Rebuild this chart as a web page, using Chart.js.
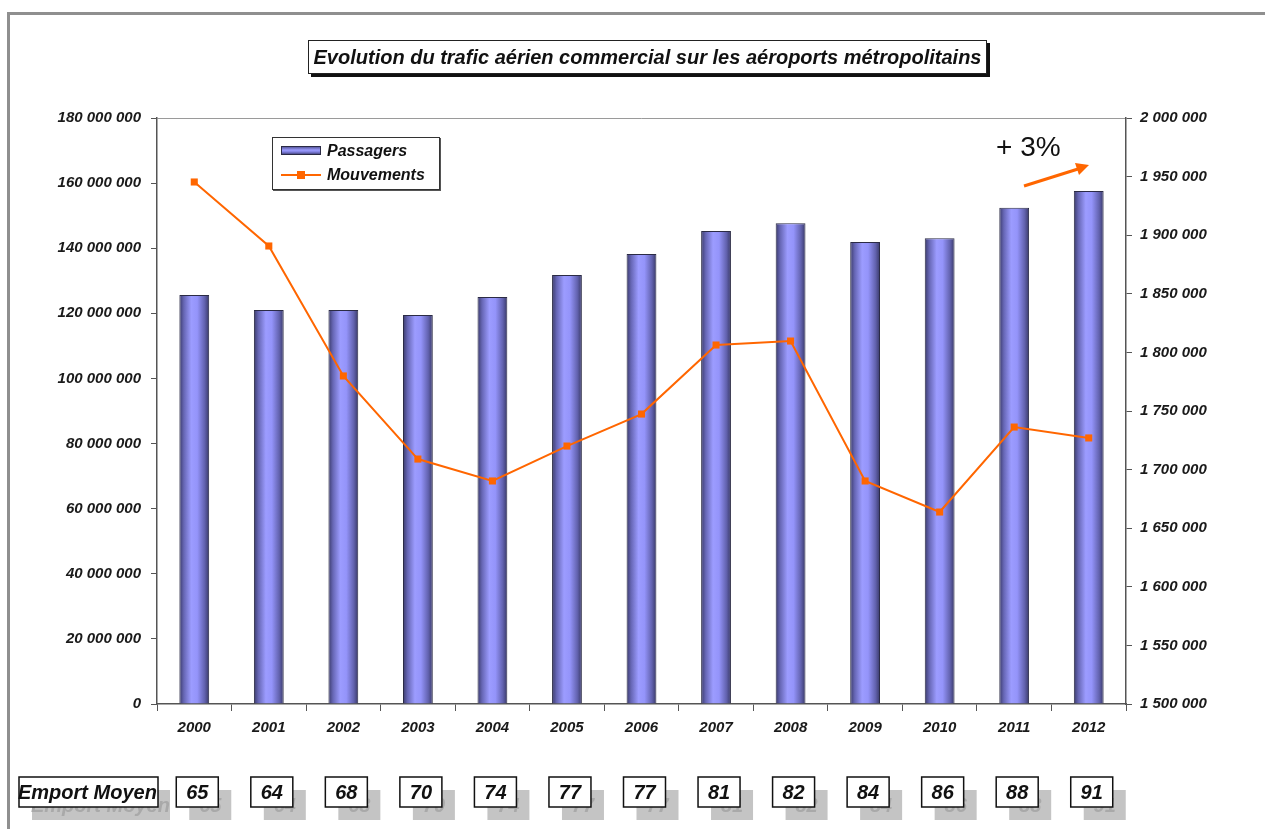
<!DOCTYPE html>
<html>
<head>
<meta charset="utf-8">
<script src="https://cdn.jsdelivr.net/npm/chart.js@4"></script>
<style>
  html, body { margin: 0; padding: 0; background: #fff; }
  body { width: 1265px; height: 829px; position: relative; overflow: hidden; font-family: "Liberation Sans", Arial, sans-serif; }
  #frame { position: absolute; left: 7px; top: 12px; right: -10px; bottom: -10px; border-left: 3px solid #8f8f8f; border-top: 3px solid #8f8f8f; }
  #chart { position: absolute; left: 0; top: 0; }
  #title { position: absolute; left: 308px; top: 40px; width: 677px; height: 32px; border: 1px solid #222; background: #fff;
    box-shadow: 3px 3px 0 #111; font: italic bold 20px "Liberation Sans", Arial, sans-serif; color: #111; line-height: 32px; text-align: center; white-space: nowrap; }
  #legend { position: absolute; left: 272px; top: 137px; width: 166px; height: 51px; border: 1px solid #333; background: #fff;
    box-shadow: 1px 1px 0 #555; font: italic bold 16px "Liberation Sans", Arial, sans-serif; color: #111; }
  .item { position: absolute; left: 8px; height: 20px; line-height: 20px; white-space: nowrap; }
  .swatch { display: inline-block; vertical-align: middle; width: 40px; height: 9px; border: 1px solid #2b2b45; box-sizing: border-box;
    background: linear-gradient(to bottom, #5a5aa0, #9c9cff 45%, #8080e0 70%, #4a4a88); margin-right: 6px; position: relative; top: -1px; }
  .lineswatch { display: inline-block; vertical-align: middle; width: 40px; height: 2px; background: #ff6600; margin-right: 6px; position: relative; top: -1px; }
  .lineswatch::after { content: ""; position: absolute; left: 16px; top: -3px; width: 8px; height: 8px; background: #ff6600; }
  #pct { position: absolute; left: 996px; top: 131px; font: 28px "Liberation Sans", Arial, sans-serif; color: #111; white-space: nowrap; }
</style>
</head>
<body>
<div id="frame"></div>
<canvas id="chart" width="1265" height="829"></canvas>
<div id="title">Evolution du trafic aérien commercial sur les aéroports métropolitains</div>
<div id="legend">
  <div class="item" style="top:3px"><span class="swatch"></span>Passagers</div>
  <div class="item" style="top:27px"><span class="lineswatch"></span>Mouvements</div>
</div>
<div id="pct">+ 3%</div>
<script>
const years = ['2000', '2001', '2002', '2003', '2004', '2005', '2006', '2007', '2008', '2009', '2010', '2011', '2012'];
const passagers = [125600000, 121000000, 121000000, 119500000, 125000000, 131800000, 138200000, 145300000, 147700000, 141900000, 143100000, 152400000, 157600000];
const mouvements = [1945400, 1890800, 1779900, 1709000, 1690300, 1720100, 1747400, 1806300, 1809700, 1690300, 1663800, 1736300, 1727000];
const emportMoyen = [65, 64, 68, 70, 74, 77, 77, 81, 82, 84, 86, 88, 91];

const tickFont = { family: '"Liberation Sans", Arial, sans-serif', size: 15, style: 'italic', weight: 'bold' };

function spaced(v) {
    return Math.round(v).toString().replace(/\B(?=(\d{3})+(?!\d))/g, ' ');
}

// cylinder look for the bars
function barGradient(c) {
    const chart = c.chart;
    const xs = chart.scales.x;
    if (c.dataIndex === undefined || !xs || !chart.chartArea) return '#9999ff';
    const cx = xs.getPixelForValue(c.dataIndex);
    const w = xs.width / years.length * 0.4;
    const g = chart.ctx.createLinearGradient(cx - w / 2, 0, cx + w / 2, 0);
    g.addColorStop(0, '#3a3a6a');
    g.addColorStop(0.15, '#6666b4');
    g.addColorStop(0.4, '#9c9cff');
    g.addColorStop(0.6, '#9494fa');
    g.addColorStop(0.85, '#6262ae');
    g.addColorStop(1, '#383866');
    return g;
}

const extras = {
    id: 'extras',
    afterDraw(chart) {
        const ctx = chart.ctx;
        const xs = chart.scales.x;
        ctx.save();

        // +3% arrow
        ctx.strokeStyle = '#ff6600';
        ctx.fillStyle = '#ff6600';
        ctx.lineWidth = 3;
        ctx.beginPath();
        ctx.moveTo(1024, 186);
        ctx.lineTo(1078, 169);
        ctx.stroke();
        ctx.beginPath();
        ctx.moveTo(1089, 165);
        ctx.lineTo(1075, 163);
        ctx.lineTo(1079, 175);
        ctx.closePath();
        ctx.fill();

        // Emport Moyen row
        ctx.textBaseline = 'middle';
        ctx.lineWidth = 1.5;
        ctx.fillStyle = '#c4c4c4';
        ctx.fillRect(32, 790, 138, 30);
        ctx.font = 'italic bold 20px "Liberation Sans", Arial, sans-serif';
        ctx.fillStyle = '#a9a9a9';
        ctx.textAlign = 'left';
        ctx.fillText('Emport Moyen', 31, 806);
        ctx.fillStyle = '#fff';
        ctx.fillRect(19, 777, 139, 30);
        ctx.strokeStyle = '#111';
        ctx.strokeRect(19, 777, 139, 30);
        ctx.fillStyle = '#111';
        ctx.fillText('Emport Moyen', 18, 793);

        ctx.font = 'italic bold 20px "Liberation Sans", Arial, sans-serif';
        ctx.textAlign = 'center';
        emportMoyen.forEach((v, i) => {
            const cx = xs.getPixelForValue(i) + 3;
            const left = cx - 21;
            ctx.fillStyle = '#c4c4c4';
            ctx.fillRect(left + 13, 790, 42, 30);
            ctx.fillStyle = '#a9a9a9';
            ctx.fillText(String(v), cx + 13, 806);
            ctx.fillStyle = '#fff';
            ctx.fillRect(left, 777, 42, 30);
            ctx.strokeStyle = '#111';
            ctx.strokeRect(left, 777, 42, 30);
            ctx.fillStyle = '#111';
            ctx.fillText(String(v), cx, 793);
        });
        ctx.restore();
    }
};

new Chart(document.getElementById('chart').getContext('2d'), {
    data: {
        labels: years,
        datasets: [{
            type: 'line',
            label: 'Mouvements',
            data: mouvements,
            yAxisID: 'y1',
            borderColor: '#ff6600',
            backgroundColor: '#ff6600',
            borderWidth: 2,
            pointStyle: 'rect',
            pointRadius: 5,
            pointBorderWidth: 0,
            tension: 0,
            order: 0
        }, {
            type: 'bar',
            label: 'Passagers',
            data: passagers,
            yAxisID: 'y',
            backgroundColor: barGradient,
            borderColor: '#2b2b45',
            borderWidth: 1,
            barPercentage: 0.5,
            categoryPercentage: 0.8,
            order: 1
        }]
    },
    options: {
        responsive: false,
        animation: false,
        layout: { padding: { top: 118, left: 0, right: 0, bottom: 0 } },
        plugins: { legend: { display: false }, tooltip: { enabled: false } },
        scales: {
            x: {
                afterFit: s => { s.height = 125; },
                border: { color: '#555', width: 1.5 },
                grid: { offset: true, drawOnChartArea: false, tickLength: 7, color: '#555' },
                ticks: { font: tickFont, color: '#1a1a1a', padding: 8, maxRotation: 0 }
            },
            y: {
                position: 'left',
                min: 0,
                max: 180000000,
                afterFit: s => { s.width = 157; },
                border: { color: '#555', width: 1.5 },
                grid: {
                    drawTicks: true,
                    tickLength: 6,
                    tickColor: '#555',
                    color: c => (c.tick && c.tick.value === 180000000) ? '#9a9a9a' : 'rgba(0,0,0,0)'
                },
                ticks: { stepSize: 20000000, font: tickFont, color: '#1a1a1a', padding: 10, callback: v => spaced(v) }
            },
            y1: {
                position: 'right',
                min: 1500000,
                max: 2000000,
                afterFit: s => { s.width = 139; },
                border: { color: '#555', width: 1.5 },
                grid: { drawOnChartArea: false, tickLength: 6, color: '#555' },
                ticks: { stepSize: 50000, font: tickFont, color: '#1a1a1a', padding: 8, callback: v => spaced(v) }
            }
        }
    },
    plugins: [extras]
});
</script>
</body>
</html>
